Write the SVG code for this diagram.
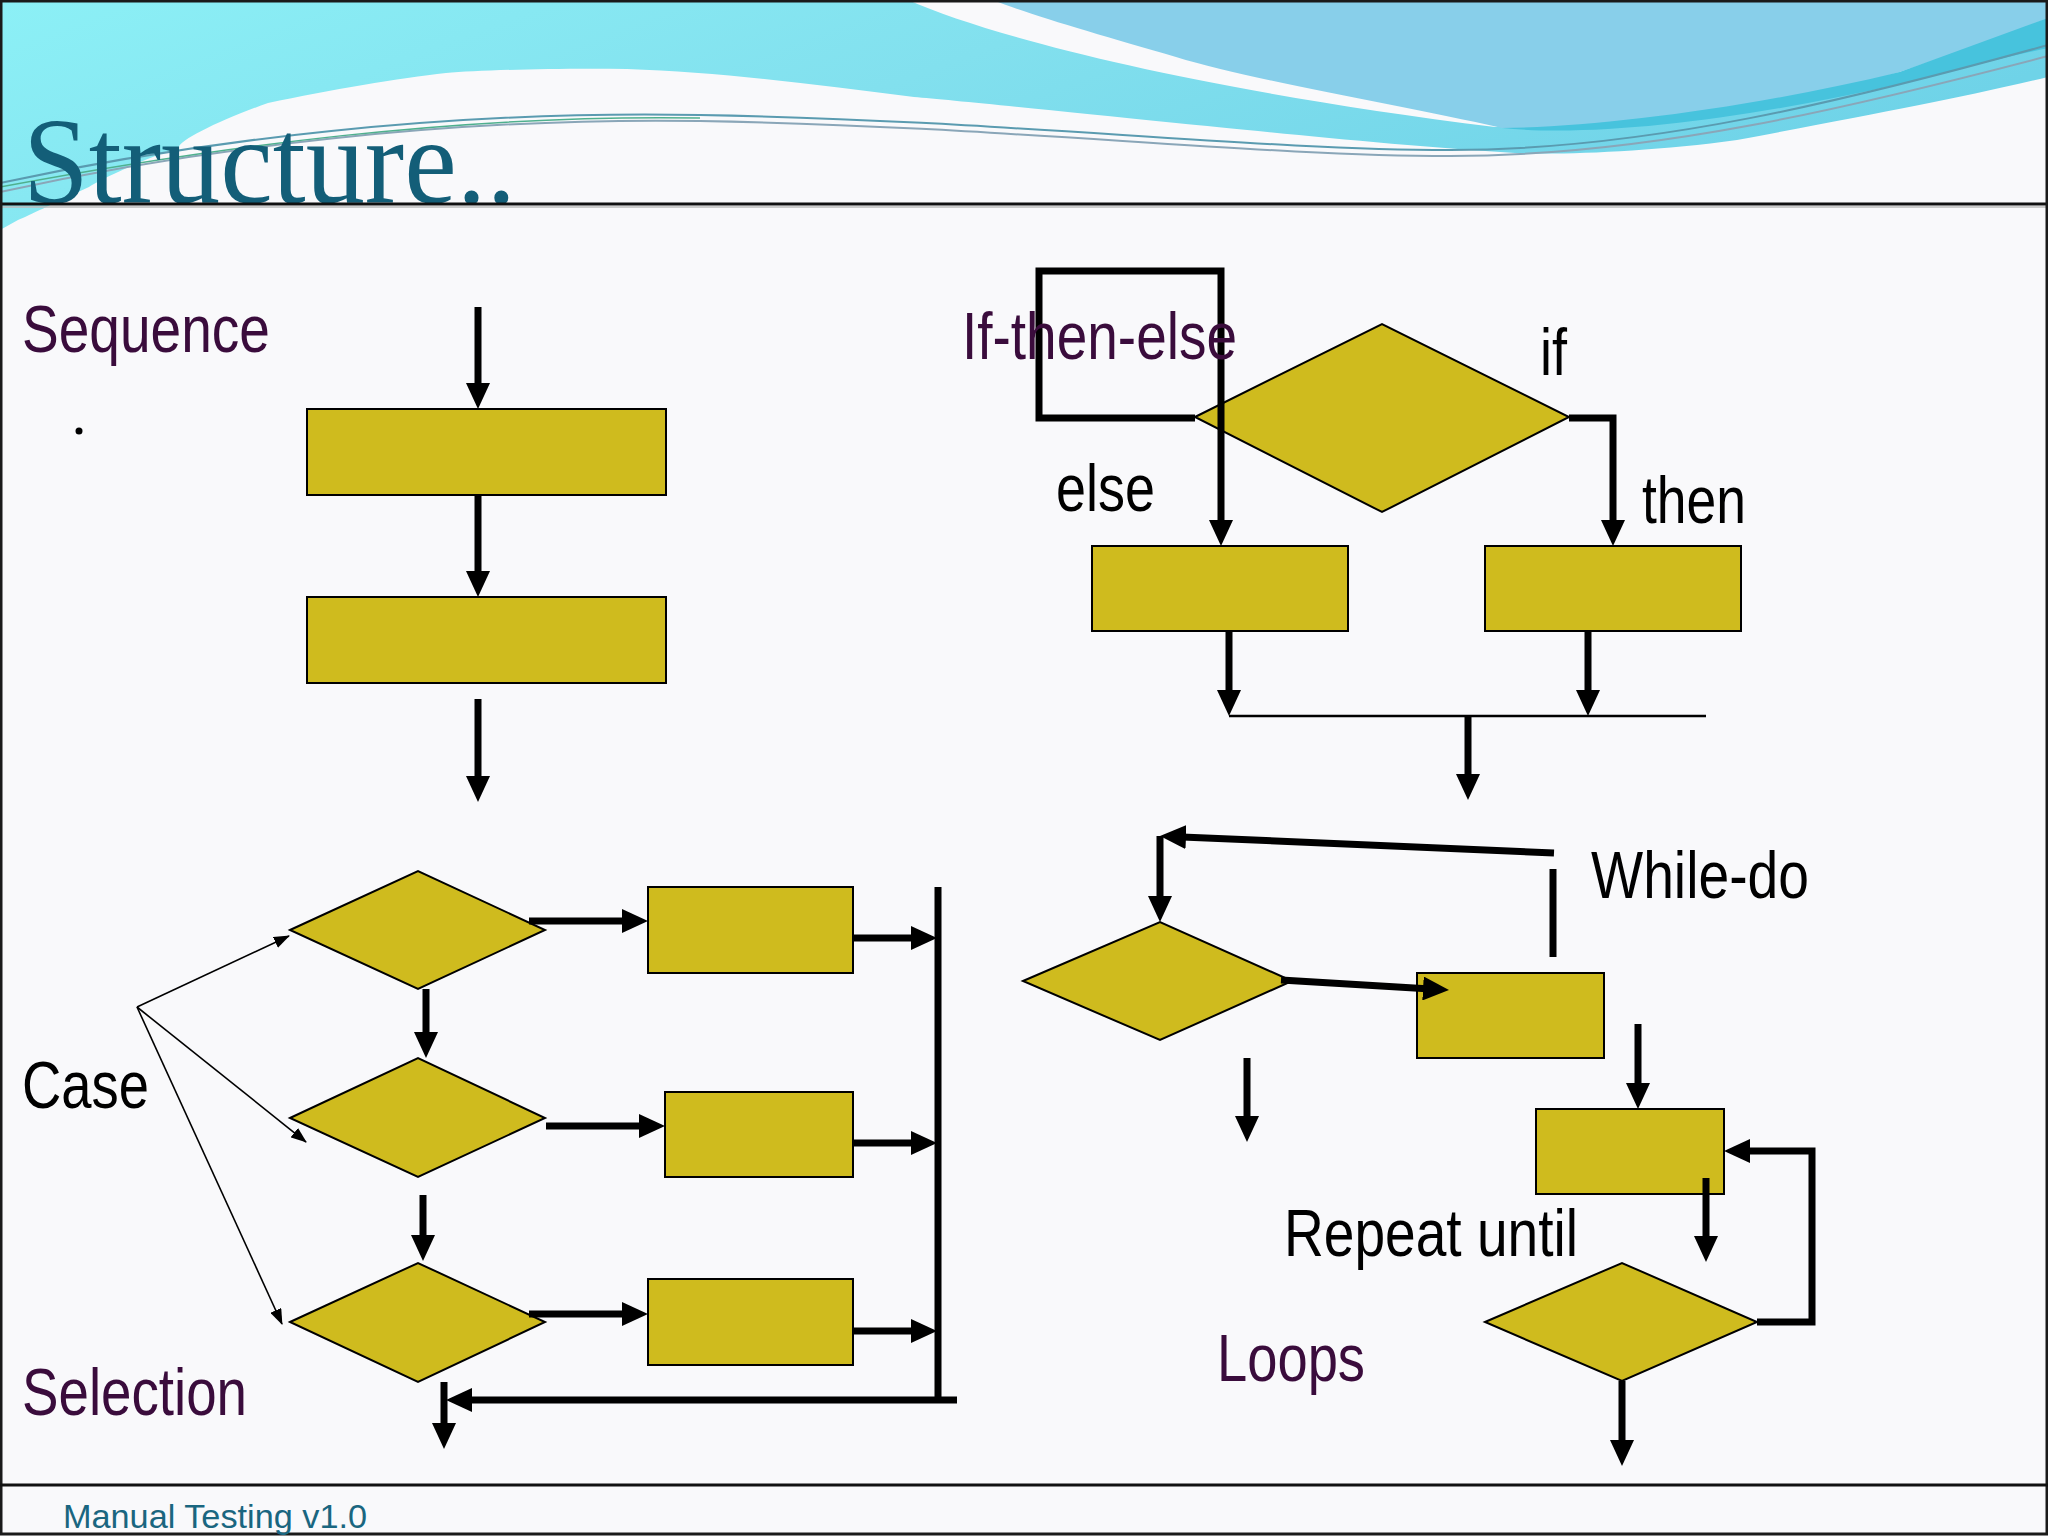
<svg xmlns="http://www.w3.org/2000/svg" width="2048" height="1536" viewBox="0 0 2048 1536">
<defs>
<linearGradient id="cyanG" x1="0" y1="0" x2="1" y2="0.3">
<stop offset="0" stop-color="#8cf0f6"/>
<stop offset="0.5" stop-color="#82e0ee"/>
<stop offset="1" stop-color="#6fd3e8"/>
</linearGradient>
<marker id="ah" viewBox="0 0 26 24" refX="16" refY="12" markerWidth="26" markerHeight="24" markerUnits="userSpaceOnUse" orient="auto">
<path d="M0,0 L26,12 L0,24 z" fill="#000"/>
</marker>
<marker id="ahs" viewBox="0 0 16 12" refX="15" refY="6" markerWidth="16" markerHeight="12" markerUnits="userSpaceOnUse" orient="auto">
<path d="M0,0 L16,6 L0,12 z" fill="#000"/>
</marker>
</defs>
<style>
.box{fill:#cfbb1e;stroke:#000;stroke-width:2}
.c{fill:none;stroke:#000;stroke-width:7;stroke-linejoin:miter}
.ca{fill:none;stroke:#000;stroke-width:7;marker-end:url(#ah)}
.thin{fill:none;stroke:#000;stroke-width:1.6;marker-end:url(#ahs)}
.t{font-family:"Liberation Sans",Arial,sans-serif;font-size:66px;fill:#000}
.p{fill:#3a0c3c}
</style>
<rect width="2048" height="1536" fill="#f9f9fb"/>
<g id="header">
<path d="M0,0 L908,0 C1000,40 1200,90 1495,127 C1600,128 1750,108 1900,72 L2048,18 L2048,77 C1950,100 1880,113 1737,140 C1650,152 1560,155 1515,153 C1400,146 1250,130 1176,123 C1050,110 950,100 914,97 C820,85 720,72 627,69 C560,68 480,70 446,73 C400,78 330,90 268,103 C220,120 180,140 179,147 C130,165 100,180 89,187 C50,205 30,215 18,220 L0,230 Z" fill="url(#cyanG)"/>
<path d="M993,0 L2048,0 L2048,18 C1980,45 1900,72 1900,72 C1800,100 1700,120 1620,126 C1560,128 1530,128 1502,128 C1400,105 1250,80 1176,57 C1100,35 1030,15 993,0 Z" fill="#88cfea"/>
<path d="M1502,128 C1600,127 1750,108 1900,72 L2048,18 L2048,48 C1980,62 1930,78 1900,84 C1750,118 1600,138 1502,128 Z" fill="#47c3dd"/>
<path d="M0,183 C200,140 450,110 700,115 C1000,120 1250,150 1450,150 C1650,150 1850,100 2048,45" fill="none" stroke="#5a9bb0" stroke-width="2"/>
<path d="M0,192 C200,148 450,117 700,121 C1000,126 1250,156 1450,156 C1650,156 1850,108 2048,56" fill="none" stroke="#8aa6b8" stroke-width="2"/>
<path d="M0,187 C220,146 460,114 700,118" fill="none" stroke="#4fb08e" stroke-width="1.5"/>
<text x="23" y="203" font-family="'Liberation Serif','Times New Roman',serif" font-size="123" fill="#135e78" textLength="493" lengthAdjust="spacingAndGlyphs">Structure..</text>
<line x1="0" y1="204" x2="2048" y2="204" stroke="#111" stroke-width="3"/>
<line x1="0" y1="207" x2="2048" y2="207" stroke="#bbb" stroke-width="1.5"/>
</g>
<rect x="1" y="1" width="2046" height="1533" fill="none" stroke="#1a1a1a" stroke-width="3"/>
<line x1="0" y1="1485" x2="2048" y2="1485" stroke="#111" stroke-width="3"/>
<text x="63" y="1528" font-family="'Liberation Sans',Arial,sans-serif" font-size="33" fill="#1a6680" textLength="304" lengthAdjust="spacingAndGlyphs">Manual Testing v1.0</text>
<circle cx="79" cy="431" r="3.5" fill="#000"/>

<g id="seq1"><rect class="box" x="307" y="409" width="359" height="86"/></g>
<g id="seq2"><rect class="box" x="307" y="597" width="359" height="86"/></g>
<g id="ite-diamond"><polygon class="box" points="1195,417 1382,324 1569,417 1382,512"/></g>
<g id="ite-else"><rect class="box" x="1092" y="546" width="256" height="85"/></g>
<g id="ite-then"><rect class="box" x="1485" y="546" width="256" height="85"/></g>
<g id="case-d1"><polygon class="box" points="290,930 418,871 545,930 418,989"/></g>
<g id="case-d2"><polygon class="box" points="290,1118 418,1058 545,1118 418,1177"/></g>
<g id="case-d3"><polygon class="box" points="290,1322 418,1263 545,1322 418,1382"/></g>
<g id="case-r1"><rect class="box" x="648" y="887" width="205" height="86"/></g>
<g id="case-r2"><rect class="box" x="665" y="1092" width="188" height="85"/></g>
<g id="case-r3"><rect class="box" x="648" y="1279" width="205" height="86"/></g>
<g id="while-diamond"><polygon class="box" points="1023,981 1160,922 1292,981 1160,1040"/></g>
<g id="while-box"><rect class="box" x="1417" y="973" width="187" height="85"/></g>
<g id="repeat-box"><rect class="box" x="1536" y="1109" width="188" height="85"/></g>
<g id="repeat-diamond"><polygon class="box" points="1485,1322 1622,1263 1757,1322 1622,1381"/></g>

<g id="connectors">
<path class="ca" d="M478,307 L478,399"/>
<path class="ca" d="M478,495 L478,587"/>
<path class="ca" d="M478,699 L478,792"/>

<path class="ca" d="M1195,418 L1039,418 L1039,271 L1221,271 L1221,536"/>
<path class="ca" d="M1569,418 L1613,418 L1613,536"/>
<path class="ca" d="M1229,631 L1229,706"/>
<path class="ca" d="M1588,631 L1588,706"/>
<path d="M1229,716 L1706,716" fill="none" stroke="#000" stroke-width="2.5"/>
<path class="ca" d="M1468,716 L1468,790"/>

<path class="thin" d="M137,1007 L289,936"/>
<path class="thin" d="M137,1007 L306,1142"/>
<path class="thin" d="M137,1007 L282,1324"/>
<path class="ca" d="M426,989 L426,1048"/>
<path class="ca" d="M423,1195 L423,1251"/>
<path class="ca" d="M529,921 L638,921"/>
<path class="ca" d="M546,1126 L655,1126"/>
<path class="ca" d="M529,1314 L638,1314"/>
<path class="ca" d="M853,938 L927,938"/>
<path class="ca" d="M853,1143 L927,1143"/>
<path class="ca" d="M853,1331 L927,1331"/>
<path class="c" d="M938,887 L938,1400"/>
<path class="ca" d="M957,1400 L456,1400"/>
<path class="ca" d="M444,1382 L444,1439"/>

<path class="c" d="M1553,957 L1553,869"/>
<path class="ca" d="M1554,853 L1170,836.4"/>
<path class="ca" d="M1160,836 L1160,912"/>
<path class="ca" d="M1281,980 L1439,989.4"/>
<path class="ca" d="M1247,1058 L1247,1132"/>
<path class="ca" d="M1638,1024 L1638,1099"/>
<path class="ca" d="M1706,1178 L1706,1252"/>
<path class="ca" d="M1757,1322 L1812,1322 L1812,1151 L1734,1151"/>
<path class="ca" d="M1622,1381 L1622,1456"/>
</g>

<g id="labels">
<text class="t p" x="22" y="352" textLength="248" lengthAdjust="spacingAndGlyphs">Sequence</text>
<text class="t p" x="962" y="359" textLength="275" lengthAdjust="spacingAndGlyphs">If-then-else</text>
<text class="t" x="1540" y="375" textLength="27" lengthAdjust="spacingAndGlyphs">if</text>
<text class="t" x="1056" y="511" textLength="99" lengthAdjust="spacingAndGlyphs">else</text>
<text class="t" x="1642" y="523" textLength="104" lengthAdjust="spacingAndGlyphs">then</text>
<text class="t" x="22" y="1108" textLength="127" lengthAdjust="spacingAndGlyphs">Case</text>
<text class="t p" x="22" y="1415" textLength="225" lengthAdjust="spacingAndGlyphs">Selection</text>
<text class="t" x="1591" y="898" textLength="218" lengthAdjust="spacingAndGlyphs">While-do</text>
<text class="t" x="1284" y="1256" textLength="294" lengthAdjust="spacingAndGlyphs">Repeat until</text>
<text class="t p" x="1217" y="1381" textLength="148" lengthAdjust="spacingAndGlyphs">Loops</text>
</g>
</svg>
